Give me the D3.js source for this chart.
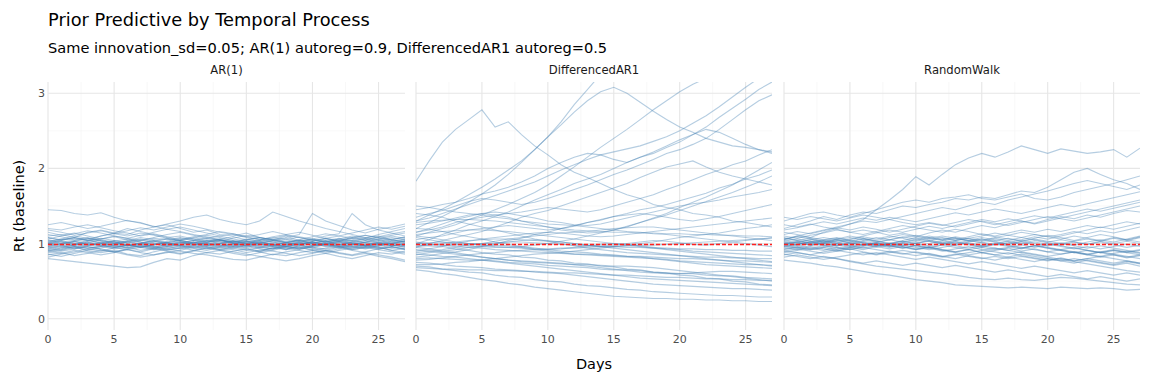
<!DOCTYPE html>
<html>
<head>
<meta charset="utf-8">
<script src="https://cdn.jsdelivr.net/npm/d3@7"></script>
<style>
  body { margin: 0; background: #fff; }
  text { font-family: "DejaVu Sans", sans-serif; }
</style>
</head>
<body>
<svg id="chart" width="1152" height="384"></svg>
<script>
// --- data (Rt, days 0..27) ---
const days = d3.range(0, 28);
const panels = ["AR(1)", "DifferencedAR1", "RandomWalk"];
const xTicks = [0, 5, 10, 15, 20, 25];
const yTicks = [0, 1, 2, 3];
const baseline = 1;

const ar1 = [
  [1.45,1.44,1.40,1.38,1.41,1.35,1.30,1.28,1.22,1.25,1.20,1.15,1.18,1.12,1.10,1.14,1.08,1.05,1.10,1.04,1.00,1.03,0.98,1.02,1.06,1.01,0.97,1.00],
  [0.80,0.78,0.76,0.74,0.72,0.70,0.68,0.69,0.75,0.80,0.78,0.84,0.88,0.86,0.90,0.93,0.89,0.95,0.92,0.97,0.94,0.99,0.96,0.92,0.95,0.98,1.01,0.97],
  [1.00,1.05,1.08,1.04,1.10,1.14,1.12,1.18,1.22,1.26,1.30,1.35,1.38,1.32,1.28,1.25,1.30,1.42,1.36,1.30,1.25,1.20,1.16,1.12,1.08,1.10,1.05,1.02],
  [0.95,0.92,0.96,0.90,0.88,0.91,0.86,0.84,0.89,0.93,0.90,0.87,0.85,0.82,0.79,0.78,0.82,0.86,0.84,0.88,0.91,0.87,0.83,0.80,0.84,0.88,0.86,0.90],
  [1.10,1.12,1.08,1.15,1.18,1.14,1.20,1.16,1.12,1.08,1.10,1.06,1.02,1.05,1.00,0.97,1.01,1.04,1.08,1.12,1.40,1.30,1.24,1.18,1.14,1.19,1.22,1.26],
  [0.90,0.94,0.98,1.02,0.99,1.03,0.97,1.00,0.96,0.93,0.97,1.01,1.05,1.02,0.98,0.95,0.99,0.96,0.92,0.95,0.91,0.94,0.98,1.01,0.97,0.94,0.96,0.93],
  [1.05,1.02,0.99,1.03,1.06,1.10,1.07,1.04,1.08,1.12,1.15,1.11,1.07,1.10,1.06,1.03,1.00,1.04,1.07,1.03,1.06,1.10,1.13,1.40,1.25,1.18,1.14,1.10],
  [0.85,0.88,0.84,0.87,0.91,0.89,0.93,0.97,0.94,0.90,0.87,0.91,0.95,0.92,0.96,1.00,0.97,0.93,0.96,0.99,1.02,0.98,0.95,0.91,0.88,0.85,0.82,0.78],
  [1.20,1.18,1.22,1.25,1.21,1.17,1.14,1.10,1.13,1.09,1.05,1.08,1.04,1.00,1.03,0.99,0.96,1.00,0.97,1.01,1.05,1.02,1.06,1.10,1.07,1.12,1.16,1.20],
  [0.98,1.00,0.97,0.94,0.96,0.93,0.95,0.99,1.02,1.06,1.03,0.99,0.96,0.92,0.89,0.86,0.83,0.80,0.77,0.80,0.84,0.87,0.91,0.94,0.97,1.00,1.03,1.06],
  [1.02,1.06,1.10,1.07,1.03,1.00,1.04,1.08,1.05,1.01,0.98,1.02,0.99,1.03,1.07,1.11,1.08,1.05,1.01,0.98,1.02,0.99,1.03,1.00,0.97,1.01,1.05,1.02],
  [0.92,0.90,0.93,0.97,1.00,0.96,0.99,0.95,0.98,1.02,1.05,1.09,1.12,1.16,1.13,1.09,1.06,1.02,0.99,0.95,0.92,0.89,0.93,0.96,0.99,0.95,0.91,0.88],
  [1.08,1.04,1.00,0.96,0.93,0.89,0.92,0.88,0.85,0.88,0.91,0.95,0.98,1.01,0.97,1.00,1.04,1.07,1.11,1.08,1.04,1.07,1.03,1.00,1.04,1.08,1.11,1.14],
  [0.88,0.91,0.95,0.92,0.96,1.00,1.03,1.00,1.04,1.01,0.97,0.94,0.91,0.95,0.92,0.88,0.91,0.94,0.98,1.01,0.97,1.00,1.03,1.07,1.04,1.00,0.97,0.99],
  [1.15,1.11,1.14,1.10,1.06,1.09,1.05,1.02,0.98,1.01,1.04,1.00,1.03,1.06,1.09,1.05,1.08,1.04,1.01,1.05,1.09,1.13,1.10,1.07,1.11,1.08,1.05,1.09],
  [0.96,0.99,1.03,1.06,1.10,1.13,1.17,1.21,1.18,1.22,1.26,1.23,1.19,1.15,1.12,1.08,1.05,1.09,1.12,1.08,1.05,1.01,0.98,0.95,0.98,1.02,0.99,0.96],
  [1.00,0.97,0.93,0.96,0.92,0.89,0.85,0.82,0.85,0.89,0.86,0.90,0.94,0.97,1.00,0.96,0.93,0.90,0.87,0.84,0.87,0.91,0.88,0.85,0.89,0.93,0.96,0.92],
  [1.25,1.28,1.24,1.20,1.23,1.27,1.31,1.27,1.23,1.19,1.22,1.18,1.14,1.10,1.13,1.09,1.12,1.16,1.12,1.15,1.11,1.07,1.10,1.14,1.18,1.22,1.19,1.23],
  [0.94,0.97,1.00,1.04,1.01,0.98,1.02,1.05,1.01,0.97,1.00,1.04,1.07,1.04,1.00,1.03,0.99,0.96,0.99,1.03,1.06,1.03,0.99,0.96,0.93,0.96,1.00,1.03],
  [1.04,1.00,1.03,0.99,1.02,0.98,0.95,0.91,0.94,0.97,1.01,1.04,1.00,0.96,0.99,1.03,1.00,0.97,1.01,1.04,1.00,0.96,0.99,1.02,0.98,0.95,0.91,0.94],
  [0.82,0.86,0.89,0.93,0.90,0.94,0.98,0.95,0.99,1.03,1.07,1.04,1.08,1.05,1.01,0.97,0.94,0.97,0.93,0.96,1.00,1.04,1.01,0.98,1.02,1.06,1.10,1.07],
  [1.12,1.09,1.05,1.08,1.04,1.01,0.97,1.00,0.96,0.92,0.95,0.91,0.88,0.91,0.87,0.84,0.88,0.91,0.95,0.98,0.94,0.91,0.87,0.84,0.87,0.83,0.80,0.76],
  [0.99,1.02,0.98,1.01,1.05,1.02,0.98,0.95,0.98,1.01,0.97,0.94,0.97,1.00,1.04,1.01,0.98,1.02,1.05,1.09,1.06,1.02,1.05,1.01,0.98,1.01,0.97,1.00],
  [1.06,1.10,1.13,1.17,1.14,1.10,1.07,1.11,1.15,1.19,1.16,1.12,1.09,1.05,1.02,1.06,1.03,0.99,0.96,0.93,0.97,1.00,1.04,1.08,1.05,1.09,1.13,1.16],
  [0.90,0.87,0.91,0.88,0.85,0.88,0.92,0.89,0.93,0.96,0.93,0.97,1.00,0.97,0.94,0.91,0.95,0.98,0.94,0.91,0.88,0.91,0.95,0.98,1.01,0.98,0.94,0.97],
  [1.01,1.04,1.08,1.05,1.01,1.04,1.00,0.97,1.00,0.96,0.99,1.02,0.98,0.94,0.97,0.94,0.90,0.93,0.97,1.00,1.03,1.07,1.04,1.08,1.11,1.07,1.04,1.01],
  [0.86,0.83,0.87,0.91,0.94,0.98,1.02,0.99,0.95,0.99,1.02,0.99,0.96,0.99,0.96,0.92,0.89,0.85,0.89,0.92,0.96,0.99,0.96,0.92,0.95,0.92,0.89,0.86],
  [1.18,1.15,1.11,1.14,1.17,1.13,1.10,1.14,1.11,1.07,1.04,1.07,1.11,1.08,1.04,1.01,1.04,1.08,1.05,1.01,0.98,1.02,1.06,1.03,1.07,1.04,1.00,1.04],
  [1.00,1.03,1.01,0.98,1.00,1.03,1.06,1.02,0.99,1.01,1.04,1.01,0.98,1.00,1.03,0.99,1.02,1.05,1.02,0.99,1.01,0.98,1.01,1.04,1.01,0.98,1.00,1.03],
  [0.97,0.95,0.98,1.01,0.98,0.95,0.97,1.00,1.03,0.99,0.96,0.98,1.01,0.98,0.95,0.98,1.01,0.98,0.96,0.99,1.02,0.99,0.96,0.99,1.02,1.05,1.02,0.99],
  [1.03,1.06,1.04,1.07,1.04,1.01,1.03,1.06,1.03,1.00,1.02,0.99,1.02,1.05,1.02,1.05,1.08,1.05,1.02,1.04,1.01,1.04,1.07,1.04,1.01,1.03,1.06,1.08],
  [0.93,0.96,0.94,0.97,1.00,0.97,0.94,0.97,0.95,0.98,1.01,0.98,1.01,1.04,1.01,0.98,0.95,0.93,0.96,0.93,0.96,0.99,1.02,0.99,0.96,0.93,0.95,0.92],
  [1.08,1.05,1.07,1.04,1.07,1.04,1.01,1.04,1.07,1.05,1.08,1.05,1.02,1.04,1.01,1.04,1.02,0.99,1.02,1.05,1.03,1.06,1.03,1.05,1.08,1.05,1.08,1.05],
  [0.96,1.00,1.03,1.00,0.97,0.95,0.92,0.95,0.92,0.95,0.98,0.96,0.93,0.96,0.99,1.02,1.05,1.02,0.99,1.02,0.99,0.97,0.94,0.97,0.94,0.97,1.00,0.97],
  [1.01,0.98,0.96,0.99,0.97,1.00,0.98,1.01,1.04,1.07,1.04,1.01,1.04,1.06,1.03,1.00,1.02,0.99,0.96,0.94,0.97,1.00,0.97,0.94,0.96,0.99,1.02,1.05],
  [0.91,0.93,0.96,0.94,0.97,0.95,0.98,0.96,0.93,0.91,0.94,0.97,0.94,0.91,0.94,0.97,1.00,0.98,1.01,0.98,0.95,0.93,0.96,0.99,0.97,1.00,0.98,0.95]
];

const diffAr1 = [
  [1.83,2.10,2.35,2.52,2.65,2.78,2.55,2.62,2.45,2.30,2.18,2.05,1.95,1.88,1.80,1.72,1.65,1.60,1.52,1.48,1.45,1.40,1.38,1.35,1.30,1.28,1.25,1.22],
  [1.30,1.38,1.46,1.55,1.65,1.75,1.86,1.98,2.10,2.25,2.42,2.62,2.85,3.05,3.25,3.40,3.50,3.55,3.60,3.62,3.65,3.66,3.68,3.70,3.70,3.72,3.74,3.75],
  [1.20,1.28,1.36,1.45,1.55,1.66,1.78,1.92,2.08,2.25,2.42,2.58,2.75,2.90,3.02,3.08,3.00,2.88,2.76,2.65,2.55,2.48,2.40,2.35,2.30,2.28,2.25,2.22],
  [1.10,1.15,1.20,1.25,1.32,1.38,1.45,1.52,1.60,1.68,1.78,1.90,2.02,2.15,2.28,2.40,2.52,2.65,2.78,2.90,3.02,3.12,3.20,3.25,3.30,3.32,3.35,3.38],
  [1.00,1.05,1.12,1.18,1.25,1.30,1.36,1.42,1.50,1.58,1.65,1.72,1.80,1.86,1.92,2.00,2.08,2.15,2.20,2.28,2.35,2.45,2.55,2.68,2.80,2.92,3.05,3.15],
  [1.45,1.48,1.52,1.55,1.60,1.66,1.70,1.75,1.82,1.90,2.00,2.08,2.15,2.20,2.18,2.12,2.08,2.15,2.22,2.30,2.38,2.45,2.52,2.48,2.40,2.32,2.25,2.20],
  [0.95,1.00,1.04,1.08,1.12,1.16,1.22,1.28,1.35,1.40,1.44,1.50,1.56,1.62,1.68,1.74,1.80,1.88,1.95,2.02,2.06,2.10,2.02,1.95,1.90,1.86,1.82,1.78],
  [1.35,1.40,1.44,1.50,1.56,1.60,1.58,1.55,1.52,1.55,1.60,1.66,1.72,1.78,1.85,1.92,1.98,2.05,2.12,2.20,2.25,2.32,2.40,2.52,2.65,2.78,2.90,2.98],
  [1.15,1.18,1.22,1.28,1.32,1.35,1.38,1.40,1.42,1.45,1.48,1.46,1.44,1.42,1.45,1.50,1.55,1.60,1.65,1.72,1.78,1.85,1.92,1.98,2.05,2.10,2.18,2.25],
  [1.25,1.27,1.30,1.34,1.38,1.40,1.42,1.40,1.37,1.34,1.30,1.28,1.25,1.24,1.26,1.30,1.34,1.38,1.42,1.46,1.50,1.53,1.55,1.58,1.62,1.65,1.68,1.72],
  [1.05,1.08,1.10,1.14,1.18,1.20,1.22,1.24,1.22,1.20,1.18,1.20,1.24,1.28,1.32,1.36,1.38,1.40,1.38,1.35,1.32,1.30,1.33,1.36,1.40,1.44,1.48,1.52],
  [0.90,0.93,0.96,1.00,1.03,1.06,1.08,1.10,1.12,1.14,1.15,1.14,1.12,1.10,1.09,1.10,1.12,1.14,1.16,1.18,1.20,1.22,1.24,1.26,1.28,1.30,1.32,1.34],
  [1.00,1.01,1.02,1.01,1.00,0.99,1.00,1.02,1.04,1.05,1.04,1.02,1.00,0.98,0.97,0.98,1.00,1.02,1.04,1.03,1.01,0.99,0.98,1.00,1.02,1.04,1.06,1.08],
  [0.85,0.88,0.90,0.92,0.95,0.97,0.98,0.97,0.95,0.93,0.92,0.93,0.95,0.97,0.99,1.00,0.99,0.97,0.95,0.93,0.92,0.90,0.89,0.88,0.87,0.86,0.85,0.84],
  [1.10,1.08,1.05,1.02,1.00,0.98,0.96,0.95,0.94,0.92,0.90,0.88,0.86,0.85,0.84,0.83,0.82,0.81,0.80,0.78,0.76,0.74,0.72,0.71,0.70,0.69,0.68,0.67],
  [0.80,0.81,0.80,0.79,0.78,0.78,0.77,0.75,0.74,0.73,0.71,0.70,0.69,0.68,0.66,0.65,0.65,0.64,0.62,0.61,0.60,0.60,0.58,0.57,0.57,0.55,0.54,0.53],
  [0.70,0.69,0.66,0.64,0.62,0.61,0.58,0.56,0.55,0.52,0.50,0.49,0.46,0.44,0.43,0.41,0.39,0.38,0.36,0.35,0.34,0.33,0.32,0.31,0.31,0.30,0.29,0.29],
  [0.65,0.63,0.60,0.58,0.55,0.52,0.50,0.47,0.45,0.42,0.40,0.38,0.36,0.34,0.32,0.30,0.29,0.28,0.27,0.27,0.26,0.26,0.25,0.25,0.24,0.24,0.23,0.23],
  [0.75,0.74,0.72,0.70,0.69,0.68,0.66,0.65,0.64,0.62,0.61,0.60,0.58,0.56,0.54,0.52,0.50,0.48,0.46,0.45,0.44,0.43,0.42,0.41,0.40,0.40,0.39,0.38],
  [0.95,0.93,0.90,0.88,0.85,0.82,0.80,0.78,0.76,0.75,0.74,0.73,0.72,0.72,0.71,0.70,0.70,0.69,0.68,0.66,0.64,0.62,0.60,0.58,0.56,0.54,0.52,0.50],
  [1.20,1.19,1.16,1.12,1.09,1.06,1.02,0.99,0.96,0.94,0.92,0.90,0.89,0.88,0.86,0.85,0.83,0.82,0.80,0.79,0.77,0.76,0.75,0.74,0.73,0.72,0.72,0.71],
  [1.40,1.38,1.35,1.30,1.26,1.22,1.18,1.14,1.10,1.06,1.03,1.00,0.97,0.94,0.92,0.90,0.88,0.87,0.86,0.85,0.84,0.83,0.82,0.82,0.81,0.81,0.80,0.80],
  [0.88,0.90,0.92,0.95,0.98,1.00,1.03,1.06,1.08,1.10,1.12,1.14,1.15,1.16,1.18,1.20,1.21,1.22,1.22,1.20,1.18,1.16,1.14,1.12,1.10,1.08,1.06,1.04],
  [1.50,1.48,1.45,1.42,1.40,1.38,1.35,1.33,1.30,1.28,1.26,1.25,1.24,1.22,1.20,1.18,1.16,1.15,1.13,1.12,1.10,1.08,1.06,1.04,1.02,1.00,0.98,0.96],
  [0.72,0.72,0.73,0.75,0.76,0.78,0.80,0.82,0.84,0.86,0.87,0.88,0.90,0.92,0.94,0.96,0.98,1.00,1.02,1.05,1.08,1.10,1.12,1.14,1.17,1.20,1.22,1.25],
  [0.98,0.97,0.96,0.93,0.91,0.88,0.86,0.85,0.82,0.81,0.78,0.77,0.74,0.73,0.70,0.69,0.66,0.65,0.62,0.61,0.58,0.57,0.54,0.53,0.50,0.49,0.46,0.45],
  [1.15,1.20,1.26,1.32,1.36,1.40,1.38,1.35,1.30,1.26,1.22,1.18,1.16,1.14,1.15,1.18,1.22,1.28,1.34,1.40,1.48,1.55,1.62,1.70,1.78,1.88,1.98,2.08],
  [1.30,1.34,1.40,1.46,1.52,1.58,1.64,1.70,1.76,1.82,1.90,1.98,2.05,2.12,2.18,2.22,2.26,2.30,2.36,2.42,2.50,2.60,2.70,2.82,2.95,3.08,3.20,3.30],
  [0.82,0.84,0.87,0.89,0.92,0.96,0.99,1.04,1.07,1.12,1.15,1.20,1.23,1.28,1.31,1.36,1.40,1.45,1.48,1.52,1.57,1.62,1.67,1.74,1.79,1.86,1.91,1.98],
  [1.08,1.05,1.02,0.99,0.97,0.96,0.95,0.95,0.96,0.98,1.00,1.03,1.06,1.10,1.14,1.18,1.23,1.28,1.33,1.38,1.44,1.50,1.56,1.62,1.68,1.75,1.82,1.90],
  [0.92,0.90,0.88,0.86,0.84,0.82,0.80,0.78,0.77,0.76,0.75,0.74,0.72,0.70,0.68,0.66,0.64,0.62,0.61,0.60,0.60,0.61,0.62,0.63,0.63,0.62,0.61,0.60],
  [1.02,1.00,0.98,0.96,0.95,0.94,0.92,0.91,0.90,0.89,0.88,0.87,0.86,0.86,0.85,0.84,0.83,0.83,0.82,0.81,0.80,0.80,0.79,0.78,0.77,0.77,0.76,0.75],
  [0.78,0.79,0.81,0.83,0.85,0.87,0.88,0.90,0.91,0.92,0.93,0.94,0.94,0.95,0.96,0.96,0.97,0.98,0.98,0.99,1.00,1.01,1.02,1.03,1.04,1.05,1.06,1.07],
  [1.12,1.14,1.16,1.17,1.18,1.18,1.17,1.16,1.14,1.12,1.10,1.08,1.06,1.04,1.02,1.00,0.98,0.96,0.94,0.92,0.90,0.88,0.86,0.84,0.82,0.80,0.78,0.76],
  [0.68,0.67,0.66,0.66,0.65,0.65,0.64,0.64,0.63,0.63,0.62,0.61,0.61,0.60,0.59,0.58,0.58,0.57,0.56,0.55,0.55,0.54,0.53,0.53,0.52,0.52,0.51,0.51],
  [0.96,0.98,1.00,1.02,1.04,1.05,1.06,1.06,1.05,1.04,1.03,1.02,1.00,0.98,0.96,0.94,0.92,0.90,0.88,0.86,0.84,0.82,0.80,0.78,0.76,0.74,0.72,0.70],
  [1.28,1.30,1.31,1.32,1.32,1.31,1.30,1.28,1.26,1.24,1.22,1.20,1.18,1.17,1.16,1.15,1.15,1.14,1.14,1.13,1.13,1.12,1.12,1.11,1.11,1.10,1.10,1.09],
  [0.86,0.85,0.83,0.82,0.80,0.78,0.76,0.74,0.72,0.70,0.68,0.66,0.64,0.62,0.60,0.58,0.56,0.54,0.53,0.52,0.51,0.50,0.49,0.48,0.47,0.46,0.45,0.44],
  [1.00,0.99,0.98,0.98,0.99,1.00,1.01,1.02,1.02,1.01,1.00,0.99,0.98,0.97,0.96,0.96,0.95,0.95,0.94,0.94,0.93,0.93,0.92,0.92,0.91,0.91,0.90,0.90]
];

const randomWalk = [
  [1.05,1.10,1.08,1.15,1.20,1.26,1.32,1.45,1.58,1.72,1.89,1.78,1.92,2.05,2.14,2.20,2.15,2.22,2.30,2.25,2.20,2.26,2.23,2.20,2.22,2.25,2.15,2.27],
  [1.20,1.25,1.30,1.36,1.32,1.38,1.42,1.40,1.45,1.50,1.48,1.52,1.55,1.60,1.58,1.62,1.60,1.65,1.70,1.68,1.75,1.85,1.95,2.00,1.92,1.85,1.80,1.72],
  [1.30,1.35,1.40,1.42,1.38,1.35,1.40,1.45,1.50,1.55,1.58,1.55,1.60,1.62,1.65,1.60,1.58,1.62,1.66,1.60,1.58,1.62,1.68,1.72,1.76,1.80,1.85,1.90],
  [0.78,0.76,0.74,0.71,0.69,0.66,0.63,0.60,0.58,0.55,0.52,0.50,0.48,0.45,0.44,0.43,0.42,0.41,0.42,0.41,0.40,0.42,0.41,0.40,0.41,0.40,0.38,0.39],
  [0.90,0.88,0.85,0.82,0.80,0.76,0.73,0.70,0.68,0.66,0.64,0.62,0.60,0.58,0.55,0.53,0.52,0.54,0.52,0.51,0.53,0.55,0.54,0.52,0.50,0.48,0.46,0.45],
  [1.00,1.02,0.98,1.01,1.05,1.03,1.07,1.04,1.08,1.12,1.09,1.14,1.18,1.15,1.20,1.24,1.21,1.26,1.30,1.27,1.32,1.36,1.33,1.38,1.35,1.40,1.44,1.42],
  [0.95,0.92,0.96,0.93,0.90,0.93,0.89,0.86,0.90,0.87,0.84,0.87,0.83,0.80,0.84,0.81,0.78,0.82,0.79,0.76,0.80,0.77,0.74,0.78,0.75,0.72,0.76,0.73],
  [1.05,1.09,1.06,1.02,1.06,1.10,1.07,1.03,1.00,1.04,1.08,1.05,1.01,0.98,1.02,1.06,1.03,0.99,1.03,1.07,1.11,1.08,1.04,1.08,1.12,1.09,1.05,1.09],
  [1.12,1.16,1.13,1.17,1.21,1.18,1.22,1.19,1.15,1.19,1.23,1.27,1.24,1.28,1.32,1.29,1.25,1.29,1.33,1.37,1.34,1.38,1.42,1.46,1.43,1.47,1.51,1.55],
  [0.88,0.91,0.94,0.91,0.95,0.92,0.96,0.99,0.96,1.00,0.97,0.94,0.98,1.01,0.98,0.95,0.99,0.96,0.93,0.97,0.94,0.91,0.88,0.85,0.89,0.86,0.83,0.80],
  [0.98,0.95,0.92,0.95,0.91,0.88,0.85,0.88,0.85,0.82,0.79,0.82,0.79,0.76,0.73,0.76,0.73,0.70,0.67,0.70,0.67,0.64,0.61,0.64,0.61,0.58,0.61,0.58],
  [1.02,0.99,1.02,1.05,1.02,0.99,1.02,0.98,1.01,0.98,1.01,1.04,1.01,1.04,1.07,1.04,1.08,1.11,1.08,1.05,1.02,1.05,1.02,0.99,1.02,0.98,0.95,0.98],
  [1.25,1.22,1.26,1.22,1.19,1.15,1.18,1.15,1.11,1.14,1.10,1.07,1.10,1.07,1.03,1.06,1.02,0.99,1.02,0.98,0.95,0.92,0.95,0.91,0.88,0.91,0.88,0.85],
  [0.85,0.88,0.85,0.89,0.92,0.95,0.92,0.96,0.99,1.03,1.00,1.04,1.08,1.05,1.09,1.13,1.10,1.14,1.18,1.15,1.19,1.16,1.20,1.24,1.21,1.25,1.29,1.26],
  [1.08,1.04,1.07,1.03,1.00,0.97,1.00,0.96,0.93,0.96,0.92,0.95,0.98,0.95,0.92,0.88,0.85,0.88,0.84,0.81,0.78,0.81,0.77,0.80,0.83,0.80,0.77,0.74],
  [0.93,0.96,1.00,1.04,1.01,1.05,1.09,1.06,1.10,1.07,1.03,1.07,1.04,1.00,1.04,1.01,0.98,1.01,1.05,1.09,1.06,1.10,1.14,1.18,1.22,1.19,1.23,1.27],
  [1.15,1.12,1.08,1.05,1.08,1.04,1.01,0.97,1.00,0.96,0.93,0.96,0.92,0.89,0.92,0.88,0.91,0.94,0.90,0.93,0.89,0.86,0.89,0.85,0.82,0.85,0.81,0.84],
  [0.96,0.99,1.02,0.99,1.03,1.06,1.10,1.14,1.18,1.15,1.19,1.23,1.20,1.24,1.28,1.32,1.29,1.33,1.30,1.26,1.30,1.34,1.38,1.42,1.46,1.50,1.54,1.58],
  [1.00,0.97,0.94,0.97,0.93,0.96,0.99,0.95,0.98,1.01,0.97,0.94,0.90,0.93,0.96,0.92,0.89,0.86,0.89,0.86,0.83,0.86,0.89,0.86,0.83,0.87,0.90,0.87],
  [0.82,0.85,0.82,0.79,0.82,0.85,0.88,0.85,0.88,0.91,0.88,0.85,0.82,0.85,0.88,0.91,0.94,0.91,0.88,0.85,0.82,0.79,0.76,0.73,0.70,0.67,0.64,0.62],
  [1.18,1.21,1.25,1.29,1.26,1.30,1.34,1.31,1.35,1.32,1.29,1.33,1.37,1.41,1.38,1.42,1.46,1.43,1.40,1.44,1.48,1.52,1.49,1.53,1.57,1.61,1.65,1.69],
  [1.04,1.01,1.05,1.08,1.05,1.01,0.98,1.01,0.97,0.94,0.98,0.95,0.91,0.88,0.85,0.88,0.85,0.82,0.86,0.83,0.80,0.77,0.80,0.77,0.74,0.71,0.74,0.70],
  [0.90,0.93,0.90,0.87,0.90,0.94,0.97,1.00,0.97,1.01,1.04,1.08,1.05,1.09,1.06,1.03,1.07,1.04,1.08,1.12,1.09,1.06,1.10,1.07,1.04,1.08,1.05,1.02],
  [1.10,1.07,1.11,1.14,1.18,1.15,1.12,1.16,1.20,1.24,1.21,1.18,1.15,1.19,1.16,1.12,1.09,1.06,1.03,1.06,1.03,1.00,0.97,0.94,0.97,0.94,0.91,0.88],
  [0.98,1.01,0.98,1.02,0.99,1.02,1.06,1.03,1.00,0.97,1.00,1.03,0.99,1.02,0.99,0.96,0.99,1.03,1.00,1.04,1.01,0.98,1.02,0.99,1.03,1.07,1.04,1.08],
  [1.35,1.32,1.36,1.33,1.30,1.34,1.38,1.35,1.32,1.28,1.25,1.28,1.25,1.22,1.26,1.30,1.27,1.24,1.28,1.32,1.36,1.33,1.30,1.34,1.38,1.42,1.46,1.50],
  [0.86,0.83,0.80,0.83,0.80,0.77,0.74,0.77,0.74,0.71,0.74,0.71,0.68,0.71,0.68,0.65,0.62,0.65,0.62,0.59,0.56,0.59,0.56,0.53,0.56,0.53,0.50,0.53],
  [1.06,1.10,1.14,1.18,1.22,1.26,1.30,1.28,1.32,1.36,1.40,1.44,1.48,1.45,1.50,1.55,1.52,1.58,1.62,1.66,1.70,1.75,1.80,1.84,1.80,1.76,1.72,1.78],
  [1.00,1.03,1.00,0.97,1.00,0.97,0.94,0.97,1.00,1.03,1.00,0.97,1.00,0.97,0.94,0.97,0.94,0.91,0.94,0.97,0.94,0.91,0.88,0.91,0.88,0.85,0.82,0.85],
  [0.97,0.94,0.97,1.00,1.04,1.01,0.98,1.01,1.05,1.02,1.06,1.03,1.00,1.03,1.00,0.97,1.00,0.97,0.94,0.97,1.00,0.97,0.94,0.91,0.88,0.91,0.88,0.91],
  [1.03,1.06,1.03,1.00,0.97,1.00,1.03,1.00,0.97,0.94,0.97,1.00,1.03,1.07,1.04,1.08,1.05,1.02,0.99,1.02,0.99,0.96,0.93,0.96,0.93,0.96,0.99,0.96],
  [0.92,0.95,0.92,0.95,0.98,0.95,0.98,1.01,0.98,0.95,0.92,0.95,0.92,0.89,0.92,0.95,0.92,0.95,0.98,0.95,0.98,1.01,0.98,1.02,1.05,1.02,1.06,1.10],
  [1.07,1.04,1.01,1.04,1.07,1.04,1.01,0.98,0.95,0.98,0.95,0.92,0.95,0.98,1.01,0.98,1.01,0.98,0.95,0.92,0.89,0.92,0.89,0.86,0.89,0.92,0.89,0.92],
  [0.96,0.99,1.03,1.00,0.97,1.00,1.04,1.08,1.05,1.09,1.06,1.10,1.07,1.04,1.07,1.10,1.14,1.11,1.15,1.12,1.09,1.12,1.16,1.13,1.17,1.14,1.18,1.22],
  [1.01,0.98,1.01,0.98,0.95,0.92,0.95,0.92,0.89,0.86,0.89,0.86,0.83,0.86,0.83,0.80,0.83,0.80,0.83,0.80,0.77,0.80,0.77,0.80,0.77,0.74,0.77,0.74],
  [0.99,1.02,1.05,1.02,1.05,1.08,1.05,1.02,1.05,1.08,1.11,1.08,1.05,1.08,1.04,1.01,1.04,1.07,1.04,1.00,0.97,1.00,1.03,1.06,1.03,1.00,1.03,1.00]
];

const series = [ar1, diffAr1, randomWalk];

// --- layout ---
const svg = d3.select("#chart");
const panelX = [[48, 405], [416, 772], [784, 1140]];
const plotTop = 82, plotBottom = 330;

const yScale = d3.scaleLinear().domain([-0.15, 3.15]).range([plotBottom, plotTop]);

// titles
svg.append("text").attr("x", 48).attr("y", 26)
  .attr("font-size", 17.8).attr("fill", "#000")
  .text("Prior Predictive by Temporal Process");
svg.append("text").attr("x", 48).attr("y", 53)
  .attr("font-size", 14.6).attr("fill", "#000")
  .text("Same innovation_sd=0.05; AR(1) autoreg=0.9, DifferencedAR1 autoreg=0.5");

panels.forEach((name, i) => {
  const [x0, x1] = panelX[i];
  const xScale = d3.scaleLinear().domain([0, 27]).range([x0, x1]);
  const g = svg.append("g");

  // minor grid
  g.selectAll(".vminor").data(d3.range(2.5, 27, 5)).enter().append("line")
    .attr("x1", d => xScale(d)).attr("x2", d => xScale(d))
    .attr("y1", plotTop).attr("y2", plotBottom)
    .attr("stroke", "#f4f4f4").attr("stroke-width", 0.6);
  g.selectAll(".hminor").data([0.5, 1.5, 2.5]).enter().append("line")
    .attr("x1", x0).attr("x2", x1)
    .attr("y1", d => yScale(d)).attr("y2", d => yScale(d))
    .attr("stroke", "#f4f4f4").attr("stroke-width", 0.6);

  // major grid
  g.selectAll(".vmajor").data(xTicks).enter().append("line")
    .attr("x1", d => xScale(d)).attr("x2", d => xScale(d))
    .attr("y1", plotTop).attr("y2", plotBottom)
    .attr("stroke", "#e6e6e6").attr("stroke-width", 1.1);
  g.selectAll(".hmajor").data(yTicks).enter().append("line")
    .attr("x1", x0).attr("x2", x1)
    .attr("y1", d => yScale(d)).attr("y2", d => yScale(d))
    .attr("stroke", "#e6e6e6").attr("stroke-width", 1.1);

  // clip
  svg.append("clipPath").attr("id", "clip" + i)
    .append("rect").attr("x", x0).attr("y", plotTop)
    .attr("width", x1 - x0).attr("height", plotBottom - plotTop);

  const line = d3.line().x((d, j) => xScale(days[j])).y(d => yScale(d));

  g.append("g").attr("clip-path", `url(#clip${i})`)
    .selectAll("path").data(series[i]).enter().append("path")
    .attr("d", line)
    .attr("fill", "none")
    .attr("stroke", "steelblue")
    .attr("stroke-opacity", 0.4)
    .attr("stroke-width", 1.1);

  // baseline
  const yb = Math.round(yScale(baseline)) + 0.5;
  g.append("line")
    .attr("x1", xScale(0)).attr("x2", xScale(27))
    .attr("y1", yb).attr("y2", yb)
    .style("stroke", "#ff2020").style("stroke-width", 1.4)
    .style("stroke-dasharray", "4,2");

  // strip label
  svg.append("text").attr("x", (x0 + x1) / 2).attr("y", 74)
    .attr("text-anchor", "middle").attr("font-size", 11.6).attr("fill", "#1a1a1a")
    .text(name);

  // x ticks
  g.selectAll(".xt").data(xTicks).enter().append("text")
    .attr("x", d => xScale(d)).attr("y", 343)
    .attr("text-anchor", "middle").attr("font-size", 11).attr("fill", "#4d4d4d")
    .text(d => d);

  if (i === 0) {
    g.selectAll(".yt").data(yTicks).enter().append("text")
      .attr("x", 45).attr("y", d => yScale(d) + 4)
      .attr("text-anchor", "end").attr("font-size", 11).attr("fill", "#4d4d4d")
      .text(d => d);
  }
});

// axis titles
svg.append("text").attr("x", 594).attr("y", 369)
  .attr("text-anchor", "middle").attr("font-size", 14.5).attr("fill", "#000")
  .text("Days");
svg.append("text")
  .attr("transform", `translate(24, ${(plotTop + plotBottom) / 2}) rotate(-90)`)
  .attr("text-anchor", "middle").attr("font-size", 14.5).attr("fill", "#000")
  .text("Rt (baseline)");
</script>
</body>
</html>
